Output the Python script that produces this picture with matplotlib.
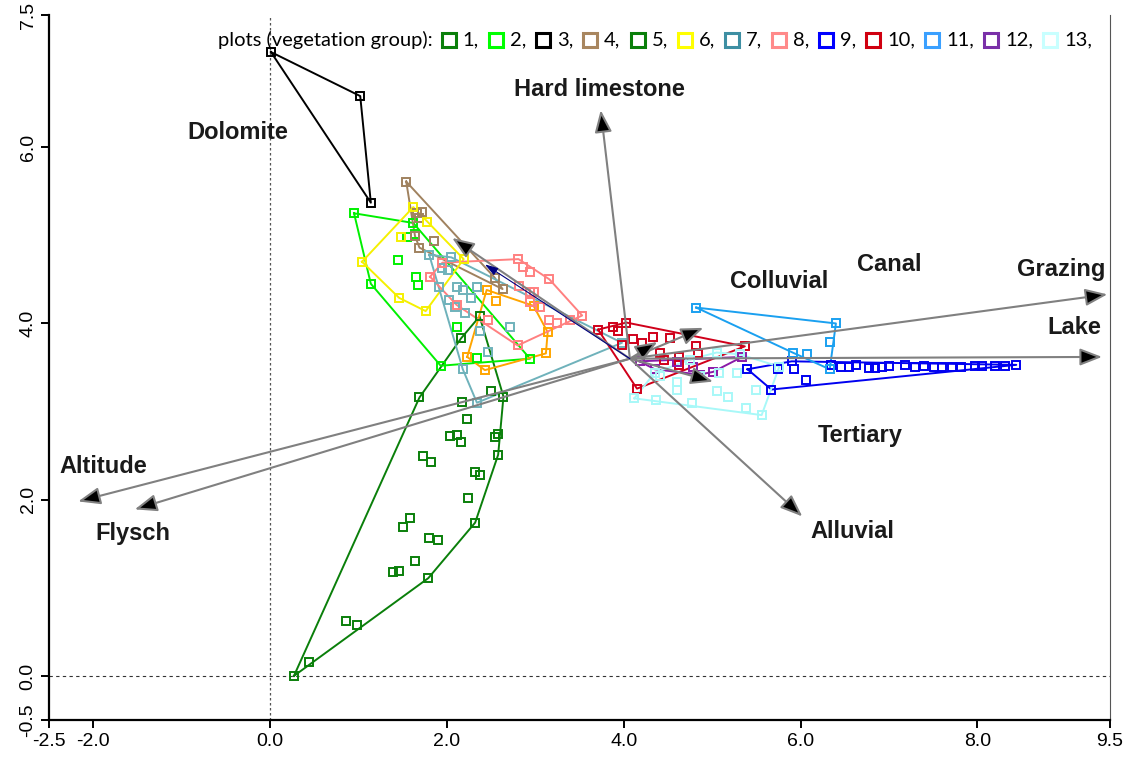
import numpy as np
import matplotlib
matplotlib.use('Agg')
import matplotlib.pyplot as plt
from matplotlib.patches import FancyArrowPatch

plt.rcParams['font.family'] = ['Liberation Sans', 'DejaVu Sans']

# site scores per vegetation group
g1_x = [2.37, 2.16, 1.69, 0.27, 0.44, 0.98, 0.86, 1.79, 2.32, 2.58, 2.58, 2.54, 2.64, 2.50, 2.17, 2.23,
        2.03, 2.12, 2.16, 1.73, 1.82, 2.32, 2.37, 2.24, 1.58, 1.50, 1.80, 1.90, 1.64, 1.39, 1.46]
g1_y = [4.08, 3.83, 3.16, 0.00, 0.16, 0.58, 0.62, 1.11, 1.74, 2.51, 2.74, 2.71, 3.17, 3.23, 3.11, 2.92,
        2.72, 2.73, 2.65, 2.50, 2.43, 2.31, 2.28, 2.02, 1.79, 1.69, 1.57, 1.54, 1.30, 1.18, 1.19]
g2_x = [0.95, 1.62, 1.55, 1.64, 1.45, 1.65, 1.67, 1.14, 1.93, 2.94, 2.34, 2.11]
g2_y = [5.25, 5.14, 4.98, 5.01, 4.72, 4.53, 4.44, 4.45, 3.52, 3.60, 3.61, 3.96]
g3_x = [0.01, 1.02, 1.14]
g3_y = [7.08, 6.58, 5.37]
g4_x = [1.54, 1.66, 1.72, 1.69, 1.64, 1.85, 1.69, 2.54, 2.63]
g4_y = [5.61, 5.25, 5.27, 5.20, 4.99, 4.93, 4.86, 4.52, 4.39]
g5_x = [2.45, 2.55, 3.14, 3.12, 2.43, 2.23, 2.98]
g5_y = [4.38, 4.26, 3.90, 3.66, 3.47, 3.62, 4.20]
g6_x = [1.62, 1.77, 1.48, 2.19, 1.76, 1.46, 1.04]
g6_y = [5.32, 5.15, 4.98, 4.73, 4.14, 4.29, 4.70]
g7_x = [1.80, 2.05, 1.94, 2.01, 1.91, 2.12, 2.18, 2.34, 2.27, 2.02, 2.09, 2.20, 2.71, 2.37, 2.47, 2.18, 2.34, 3.98]
g7_y = [4.78, 4.75, 4.63, 4.61, 4.41, 4.41, 4.38, 4.41, 4.29, 4.27, 4.19, 4.12, 3.96, 3.91, 3.68, 3.48, 3.10, 3.78]
g8_x = [1.81, 1.95, 2.81, 2.86, 2.94, 3.16, 2.82, 2.94, 2.99, 2.94, 3.05, 3.16, 3.24, 3.53, 3.39, 2.80, 2.46, 2.11]
g8_y = [4.53, 4.69, 4.73, 4.64, 4.58, 4.50, 4.43, 4.36, 4.36, 4.24, 4.19, 4.04, 4.01, 4.09, 4.04, 3.75, 4.04, 4.21]
g9_x = [5.40, 5.67, 6.06, 5.74, 5.93, 5.90, 8.44, 6.35, 6.46, 6.55, 6.63, 6.77, 6.84, 6.92, 7.00, 7.18,
        7.29, 7.40, 7.51, 7.60, 7.71, 7.82, 7.97, 8.05, 8.20, 8.31]
g9_y = [3.48, 3.25, 3.36, 3.48, 3.48, 3.57, 3.53, 3.53, 3.51, 3.51, 3.53, 3.50, 3.49, 3.51, 3.52, 3.53,
        3.51, 3.52, 3.51, 3.51, 3.51, 3.51, 3.52, 3.52, 3.52, 3.52]
g10_x = [3.71, 3.88, 4.03, 3.93, 4.21, 4.33, 4.52, 4.82, 5.37, 4.63, 4.84, 4.63, 4.46, 4.41, 4.15, 4.10, 3.98]
g10_y = [3.93, 3.96, 4.01, 3.91, 3.78, 3.85, 3.83, 3.74, 3.74, 3.62, 3.67, 3.53, 3.59, 3.67, 3.26, 3.82, 3.76]
g11_x = [4.82, 6.40, 6.33, 5.91, 6.07, 6.33]
g11_y = [4.18, 4.00, 3.79, 3.67, 3.65, 3.48]
g12_x = [4.18, 4.35, 4.60, 4.78, 5.01, 5.34, 4.86]
g12_y = [3.57, 3.48, 3.56, 3.51, 3.45, 3.62, 3.42]
g13_x = [4.12, 4.37, 4.77, 5.38, 5.56, 5.76, 5.05, 4.41, 4.60, 4.86, 5.08, 5.28, 5.50, 5.05, 5.18, 4.35, 4.60, 5.31, 4.75]
g13_y = [3.15, 3.13, 3.10, 3.04, 2.96, 3.51, 3.67, 3.40, 3.33, 3.40, 3.44, 3.44, 3.25, 3.23, 3.17, 3.44, 3.25, 3.65, 3.59]

groups_x = [g1_x, g2_x, g3_x, g4_x, g5_x, g6_x, g7_x, g8_x, g9_x, g10_x, g11_x, g12_x, g13_x]
groups_y = [g1_y, g2_y, g3_y, g4_y, g5_y, g6_y, g7_y, g8_y, g9_y, g10_y, g11_y, g12_y, g13_y]
group_labels = ['1', '2', '3', '4', '5', '6', '7', '8', '9', '10', '11', '12', '13']
group_colors = ['#0a7f0a', '#00f000', '#000000', '#a0825f', '#ffa500', '#f5f000', '#6fb2bb',
                '#ff8080', '#0000f0', '#d0001a', '#1aa0f0', '#8a1aa8', '#a8f8f8']
legend_colors = ['#0a7f0a', '#00ff00', '#000000', '#a8865f', '#0a7f0a', '#ffff00', '#3e8fa3',
                 '#ff8a8a', '#0000ff', '#d00010', '#3aa0ff', '#7a30a8', '#c8ffff']

# environmental vectors
env_names = ['Hard limestone', 'Dolomite', 'Colluvial', 'Canal', 'Grazing', 'Lake',
             'Tertiary', 'Alluvial', 'Altitude', 'Flysch']
env_x = [3.74, 2.06, 4.90, 4.38, 9.47, 9.41, 5.01, 6.02, -2.17, -1.53]
env_y = [6.42, 4.97, 3.95, 3.79, 4.33, 3.62, 3.34, 1.81, 1.98, 1.89]
lab_x = [3.73, -0.37, 5.76, 7.00, 8.95, 9.10, 6.67, 6.59, -1.89, -1.55]
lab_y = [6.65, 6.17, 4.48, 4.67, 4.61, 3.95, 2.73, 1.64, 2.38, 1.62]
origin = (4.07, 3.60)
extra_x, extra_y = 2.43, 4.67

xticks = [-2.5, -2.0, 0.0, 2.0, 4.0, 6.0, 8.0, 9.5]
yticks = [-0.5, 0.0, 2.0, 4.0, 6.0, 7.5]


def convex_hull(xs, ys):
    pts = sorted(set(zip(xs, ys)))
    if len(pts) < 3:
        return pts

    def cross(o, a, b):
        return (a[0] - o[0]) * (b[1] - o[1]) - (a[1] - o[1]) * (b[0] - o[0])

    lower = []
    for p in pts:
        while len(lower) >= 2 and cross(lower[-2], lower[-1], p) <= 0:
            lower.pop()
        lower.append(p)
    upper = []
    for p in reversed(pts):
        while len(upper) >= 2 and cross(upper[-2], upper[-1], p) <= 0:
            upper.pop()
        upper.append(p)
    return lower[:-1] + upper[:-1]


W, H = 1132, 762
fig = plt.figure(figsize=(W / 100, H / 100), dpi=100)
ax = fig.add_axes([49 / W, 1 - 720 / H, (1110 - 49) / W, (720 - 15) / H])
ax.set_xlim(-2.5, 9.5)
ax.set_ylim(-0.5, 7.5)

ax.axvline(0, color='#555555', lw=0.9, ls=(0, (2, 2)), zorder=1)
ax.axhline(0, color='#333333', lw=0.8, ls=(0, (3, 3)), zorder=1)

for xs, ys, c in zip(groups_x, groups_y, group_colors):
    h = convex_hull(xs, ys)
    hx = [p[0] for p in h] + [h[0][0]]
    hy = [p[1] for p in h] + [h[0][1]]
    ax.plot(hx, hy, color=c, lw=1.4, zorder=3)
    ax.plot(xs, ys, ls='none', marker='s', ms=6, mfc='none', mec=c, mew=1.4, zorder=4)

# arrows for the environmental variables
for name, tx, ty, lx, ly in zip(env_names, env_x, env_y, lab_x, lab_y):
    arr = FancyArrowPatch(origin, (tx, ty), arrowstyle='-|>,head_length=0.9,head_width=0.35',
                          mutation_scale=15, lw=1.5, ec='#808080', fc='black',
                          shrinkA=0, shrinkB=0, zorder=5)
    ax.add_patch(arr)
    ax.text(lx, ly, name, fontsize=17, fontweight='bold', color='#1a1a1a',
            ha='center', va='center', zorder=6)

arr = FancyArrowPatch(origin, (extra_x, extra_y), arrowstyle='-|>,head_length=0.8,head_width=0.25',
                      mutation_scale=10, lw=0.8, ec='#000080', fc='#000080',
                      shrinkA=0, shrinkB=0, zorder=5)
ax.add_patch(arr)

ax.spines['top'].set_visible(False)
ax.spines['left'].set_linewidth(1.6)
ax.spines['bottom'].set_linewidth(1.6)
ax.spines['right'].set_linewidth(0.8)
ax.spines['right'].set_color('#555555')
ax.set_xticks(xticks)
ax.set_xticklabels(['%.1f' % v for v in xticks], fontsize=14, family=['Liberation Sans Narrow', 'Liberation Sans'])
ax.set_yticks(yticks)
ax.set_yticklabels(['%.1f' % v for v in yticks], fontsize=14, rotation=90, va='center',
                   family=['Liberation Sans Narrow', 'Liberation Sans'])
ax.tick_params(direction='out', length=6, width=1.4, pad=3)
ax.yaxis.set_ticks_position('left')
ax.xaxis.set_ticks_position('bottom')

# legend row along the top
fig.canvas.draw()
renderer = fig.canvas.get_renderer()
ly_fig = 1 - 40 / H
t = fig.text(218 / W, ly_fig, 'plots (vegetation group):', fontsize=14.5, family=['Lato', 'DejaVu Sans'],
             ha='left', va='center')
bb = t.get_window_extent(renderer)
cursor = bb.x1 + 9
for lab, c in zip(group_labels, legend_colors):
    fig.lines.append(plt.Line2D([(cursor + 7) / W], [ly_fig], marker='s', ms=10, mfc='none', mec=c,
                                mew=2.2, transform=fig.transFigure, figure=fig))
    t = fig.text((cursor + 21) / W, ly_fig, lab + ',', fontsize=14.5, family=['Lato', 'DejaVu Sans'],
                 ha='left', va='center')
    bb = t.get_window_extent(renderer)
    cursor = bb.x1 + 10

fig.savefig('out.png', dpi=100)
